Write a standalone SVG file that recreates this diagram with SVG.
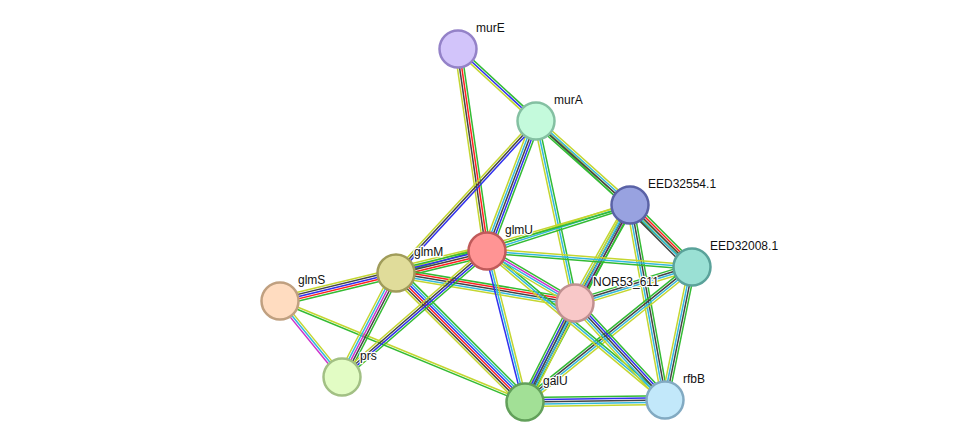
<svg xmlns="http://www.w3.org/2000/svg" width="976" height="448" viewBox="0 0 976 448">
<style>
line{stroke-width:1.5;fill:none}
.g{stroke:#33bb33}.r{stroke:#ff2020}.b{stroke:#3030ee}.k{stroke:#444444}
.m{stroke:#cc33cc}.c{stroke:#33b8dd}.y{stroke:#c4d630}
circle{stroke-width:2.5}
text{font-family:"Liberation Sans",Arial,sans-serif;font-size:12px;fill:#111;stroke:#fff;stroke-width:2.5;paint-order:stroke;stroke-linejoin:round}
</style>
<rect width="976" height="448" fill="#fff"/>
<g id="edges">
<g transform="translate(458 49) rotate(42.7)"><line x2="106.2" y1="-2.2" y2="-2.2" class="g"/><line x2="106.2" class="b"/><line x2="106.2" y1="2.2" y2="2.2" class="y"/></g>
<g transform="translate(458 49) rotate(81.8)"><line x2="204.1" y1="-3.3" y2="-3.3" class="g"/><line x2="204.1" y1="-1.1" y2="-1.1" class="r"/><line x2="204.1" y1="1.1" y2="1.1" class="k"/><line x2="204.1" y1="3.3" y2="3.3" class="y"/></g>
<g transform="translate(536 121) rotate(110.7)"><line x2="138.9" y1="-4.4" y2="-4.4" class="g"/><line x2="138.9" y1="-2.2" y2="-2.2" class="b"/><line x2="138.9" class="k"/><line x2="138.9" y1="2.2" y2="2.2" class="c"/><line x2="138.9" y1="4.4" y2="4.4" class="y"/></g>
<g transform="translate(536 121) rotate(132.6)"><line x2="206.6" y1="-2.2" y2="-2.2" class="b"/><line x2="206.6" class="k"/><line x2="206.6" y1="2.2" y2="2.2" class="y"/></g>
<g transform="translate(536 121) rotate(43.1)"><line x2="213.7" y1="-1.1" y2="-1.1" class="y"/><line x2="213.7" y1="1.1" y2="1.1" class="g"/></g>
<g transform="translate(536 121) rotate(41.8)"><line x2="126.1" y1="-3.3" y2="-3.3" class="y"/><line x2="126.1" y1="-1.1" y2="-1.1" class="c"/><line x2="126.1" y1="1.1" y2="1.1" class="k"/><line x2="126.1" y1="3.3" y2="3.3" class="g"/></g>
<g transform="translate(536 121) rotate(77.9)"><line x2="186.1" y1="-2.2" y2="-2.2" class="g"/><line x2="186.1" class="c"/><line x2="186.1" y1="2.2" y2="2.2" class="y"/></g>
<g transform="translate(630 205) rotate(45)"><line x2="87.7" y1="-4.4" y2="-4.4" class="g"/><line x2="87.7" y1="-2.2" y2="-2.2" class="r"/><line x2="87.7" class="k"/><line x2="87.7" y1="2.2" y2="2.2" class="c"/><line x2="87.7" y1="4.4" y2="4.4" class="k"/></g>
<g transform="translate(487 251) rotate(-17.8)"><line x2="150.2" y1="-2.2" y2="-2.2" class="y"/><line x2="150.2" class="c"/><line x2="150.2" y1="2.2" y2="2.2" class="g"/></g>
<g transform="translate(396 273) rotate(-16.2)"><line x2="243.7" y1="-1.1" y2="-1.1" class="y"/><line x2="243.7" y1="1.1" y2="1.1" class="g"/></g>
<g transform="translate(630 205) rotate(119.3)"><line x2="112.4" y1="-4.4" y2="-4.4" class="g"/><line x2="112.4" y1="-2.2" y2="-2.2" class="m"/><line x2="112.4" class="k"/><line x2="112.4" y1="2.2" y2="2.2" class="c"/><line x2="112.4" y1="4.4" y2="4.4" class="y"/></g>
<g transform="translate(630 205) rotate(118.1)"><line x2="223.2" y1="-3.3" y2="-3.3" class="g"/><line x2="223.2" y1="-1.1" y2="-1.1" class="k"/><line x2="223.2" y1="1.1" y2="1.1" class="c"/><line x2="223.2" y1="3.3" y2="3.3" class="y"/></g>
<g transform="translate(630 205) rotate(79.8)"><line x2="198.1" y1="-3.3" y2="-3.3" class="g"/><line x2="198.1" y1="-1.1" y2="-1.1" class="k"/><line x2="198.1" y1="1.1" y2="1.1" class="c"/><line x2="198.1" y1="3.3" y2="3.3" class="y"/></g>
<g transform="translate(487 251) rotate(4.46)"><line x2="205.6" y1="-2.2" y2="-2.2" class="y"/><line x2="205.6" class="c"/><line x2="205.6" y1="2.2" y2="2.2" class="g"/></g>
<g transform="translate(575 303) rotate(-17.1)"><line x2="122.4" y1="-3.3" y2="-3.3" class="g"/><line x2="122.4" y1="-1.1" y2="-1.1" class="k"/><line x2="122.4" y1="1.1" y2="1.1" class="c"/><line x2="122.4" y1="3.3" y2="3.3" class="y"/></g>
<g transform="translate(525 402) rotate(-38.9)"><line x2="214.7" y1="-3.3" y2="-3.3" class="g"/><line x2="214.7" y1="-1.1" y2="-1.1" class="k"/><line x2="214.7" y1="1.1" y2="1.1" class="c"/><line x2="214.7" y1="3.3" y2="3.3" class="y"/></g>
<g transform="translate(692 267) rotate(101.5)"><line x2="135.7" y1="-3.3" y2="-3.3" class="g"/><line x2="135.7" y1="-1.1" y2="-1.1" class="k"/><line x2="135.7" y1="1.1" y2="1.1" class="c"/><line x2="135.7" y1="3.3" y2="3.3" class="y"/></g>
<g transform="translate(396 273) rotate(-13.6)"><line x2="93.6" y1="-5.5" y2="-5.5" class="y"/><line x2="93.6" y1="-3.3" y2="-3.3" class="g"/><line x2="93.6" y1="-1.1" y2="-1.1" class="b"/><line x2="93.6" y1="1.1" y2="1.1" class="k"/><line x2="93.6" y1="3.3" y2="3.3" class="r"/><line x2="93.6" y1="5.5" y2="5.5" class="g"/></g>
<g transform="translate(280 301) rotate(-13.6)"><line x2="119.3" y1="-4.4" y2="-4.4" class="y"/><line x2="119.3" y1="-2.2" y2="-2.2" class="k"/><line x2="119.3" class="b"/><line x2="119.3" y1="2.2" y2="2.2" class="r"/><line x2="119.3" y1="4.4" y2="4.4" class="g"/></g>
<g transform="translate(280 301) rotate(50.8)"><line x2="98.1" y1="-2.2" y2="-2.2" class="y"/><line x2="98.1" class="c"/><line x2="98.1" y1="2.2" y2="2.2" class="m"/></g>
<g transform="translate(280 301) rotate(22.4)"><line x2="265" y1="-1.1" y2="-1.1" class="y"/><line x2="265" y1="1.1" y2="1.1" class="g"/></g>
<g transform="translate(396 273) rotate(117.4)"><line x2="117.2" y1="-4.4" y2="-4.4" class="g"/><line x2="117.2" y1="-2.2" y2="-2.2" class="k"/><line x2="117.2" class="m"/><line x2="117.2" y1="2.2" y2="2.2" class="c"/><line x2="117.2" y1="4.4" y2="4.4" class="y"/></g>
<g transform="translate(396 273) rotate(45)"><line x2="182.4" y1="-5.5" y2="-5.5" class="g"/><line x2="182.4" y1="-3.3" y2="-3.3" class="c"/><line x2="182.4" y1="-1.1" y2="-1.1" class="b"/><line x2="182.4" y1="1.1" y2="1.1" class="r"/><line x2="182.4" y1="3.3" y2="3.3" class="k"/><line x2="182.4" y1="5.5" y2="5.5" class="y"/></g>
<g transform="translate(396 273) rotate(9.5)"><line x2="181.5" y1="-4.4" y2="-4.4" class="g"/><line x2="181.5" y1="-2.2" y2="-2.2" class="r"/><line x2="181.5" class="k"/><line x2="181.5" y1="2.2" y2="2.2" class="c"/><line x2="181.5" y1="4.4" y2="4.4" class="y"/></g>
<g transform="translate(487 251) rotate(39.9)"><line x2="232.1" y1="-2.2" y2="-2.2" class="g"/><line x2="232.1" class="c"/><line x2="232.1" y1="2.2" y2="2.2" class="y"/></g>
<g transform="translate(487 251) rotate(139)"><line x2="192.1" y1="-3.3" y2="-3.3" class="g"/><line x2="192.1" y1="-1.1" y2="-1.1" class="b"/><line x2="192.1" y1="1.1" y2="1.1" class="k"/><line x2="192.1" y1="3.3" y2="3.3" class="y"/></g>
<g transform="translate(487 251) rotate(75.9)"><line x2="155.7" y1="-2.2" y2="-2.2" class="y"/><line x2="155.7" class="c"/><line x2="155.7" y1="2.2" y2="2.2" class="b"/></g>
<g transform="translate(487 251) rotate(30.6)"><line x2="102.2" y1="-3.3" y2="-3.3" class="g"/><line x2="102.2" y1="-1.1" y2="-1.1" class="m"/><line x2="102.2" y1="1.1" y2="1.1" class="c"/><line x2="102.2" y1="3.3" y2="3.3" class="y"/></g>
<g transform="translate(525 402) rotate(-63.2)"><line x2="110.9" y1="-4.4" y2="-4.4" class="g"/><line x2="110.9" y1="-2.2" y2="-2.2" class="b"/><line x2="110.9" class="k"/><line x2="110.9" y1="2.2" y2="2.2" class="c"/><line x2="110.9" y1="4.4" y2="4.4" class="y"/></g>
<g transform="translate(525 402) rotate(-0.8)"><line x2="140" y1="-4.4" y2="-4.4" class="g"/><line x2="140" y1="-2.2" y2="-2.2" class="b"/><line x2="140" class="k"/><line x2="140" y1="2.2" y2="2.2" class="c"/><line x2="140" y1="4.4" y2="4.4" class="y"/></g>
<g transform="translate(575 303) rotate(47.1)"><line x2="132.3" y1="-4.4" y2="-4.4" class="g"/><line x2="132.3" y1="-2.2" y2="-2.2" class="b"/><line x2="132.3" class="k"/><line x2="132.3" y1="2.2" y2="2.2" class="c"/><line x2="132.3" y1="4.4" y2="4.4" class="y"/></g>
</g>
<g id="murE"><circle cx="458" cy="49" r="18.5" fill="#d2c4fa" stroke="#9482c8"/><text x="476" y="32">murE</text></g>
<g id="murA"><circle cx="536" cy="121" r="18.5" fill="#c4fadc" stroke="#84c0a2"/><text x="554" y="104">murA</text></g>
<g id="EED32554.1"><circle cx="630" cy="205" r="18.5" fill="#98a2e0" stroke="#5a62a6"/><text x="648" y="188">EED32554.1</text></g>
<g id="EED32008.1"><circle cx="692" cy="267" r="18.5" fill="#9ae0d4" stroke="#5aa29a"/><text x="710" y="250">EED32008.1</text></g>
<g id="glmU"><circle cx="487" cy="251" r="18.5" fill="#ff9494" stroke="#c05a5a"/><text x="505" y="234">glmU</text></g>
<g id="glmM"><circle cx="396" cy="273" r="18.5" fill="#e0dc9a" stroke="#a09c5a"/><text x="414" y="256">glmM</text></g>
<g id="glmS"><circle cx="280" cy="301" r="18.5" fill="#ffdcc0" stroke="#c0a080"/><text x="298" y="284">glmS</text></g>
<g id="NOR53_611"><circle cx="575" cy="303" r="18.5" fill="#f8c8c8" stroke="#c09090"/><text x="593" y="286">NOR53_611</text></g>
<g id="prs"><circle cx="342" cy="377" r="18.5" fill="#e2fcc4" stroke="#a2c084"/><text x="360" y="360">prs</text></g>
<g id="galU"><circle cx="525" cy="402" r="18.5" fill="#a2e096" stroke="#62a05a"/><text x="543" y="385">galU</text></g>
<g id="rfbB"><circle cx="665" cy="400" r="18.5" fill="#c2e8fa" stroke="#82aac2"/><text x="683" y="383">rfbB</text></g>
</svg>
